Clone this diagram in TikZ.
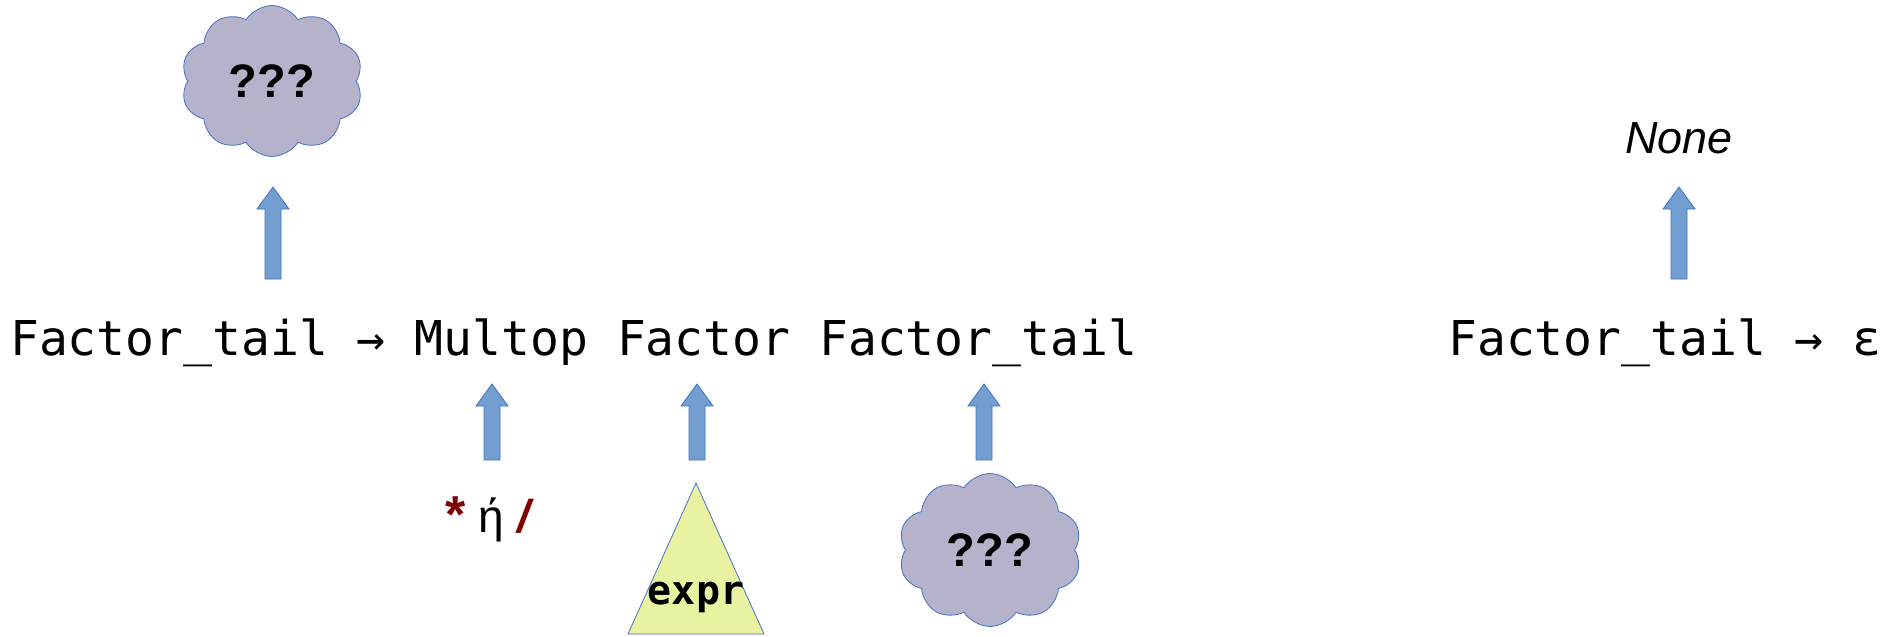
\documentclass[tikz,border=0pt]{standalone}
\usepackage{fontspec}
\setmainfont{Liberation Sans}
\newfontfamily\monofont{DejaVu Sans Mono}
\usetikzlibrary{shapes.symbols,calc}
\definecolor{arrowfill}{RGB}{114,159,207}
\definecolor{edgeblue}{RGB}{68,114,196}
\definecolor{cloudfill}{RGB}{181,179,203}
\definecolor{treefill}{RGB}{232,242,161}
\definecolor{opred}{RGB}{128,0,0}
\tikzset{
  rule/.style={font=\monofont\fontsize{48}{56}\selectfont, inner sep=0pt, anchor=base west},
  unknown/.style={cloud, cloud puffs=10, cloud puff arc=115, cloud ignores aspect,
    draw=edgeblue, fill=cloudfill, line width=0.8pt, inner sep=0pt,
    font=\bfseries\fontsize{47}{52}\selectfont},
  subtree/.style={draw=edgeblue, fill=treefill, line width=0.8pt},
  blockarrow/.style={draw=edgeblue, fill=arrowfill, line width=0.8pt,
    to path={let \p1=(\tikztostart), \p2=(\tikztotarget) in
      (\x1-8pt,\y1) -- (\x1+8pt,\y1) -- (\x1+8pt,\y2-22pt) -- (\x1+16pt,\y2-22pt)
      -- (\x1,\y2) -- (\x1-16pt,\y2-22pt) -- (\x1-8pt,\y2-22pt) -- cycle}},
}
\begin{document}
\begin{tikzpicture}[x=1pt,y=-1pt]
\useasboundingbox (0,0) rectangle (1893,637);

% productions
\node[rule] (prod) at (10,355) {Factor\_tail → Multop Factor Factor\_tail};
\node[rule] (eps) at (1448,355) {Factor\_tail → ε};

% values above the left-hand sides
\node[unknown, minimum width=182pt, minimum height=151pt] (top) at (272,81) {???};
\node[font=\itshape\fontsize{45}{52}\selectfont, anchor=base, inner sep=0pt] (none) at (1679,153) {None};

% children below the right-hand side
\node[font=\fontsize{46}{52}\selectfont, anchor=base, inner sep=0pt] (ops) at (490,532)
  {\textcolor{opred}{\fontsize{52}{52}\selectfont\textbf{*}} ή \textcolor{opred}{\textbf{\textit{/}}}};
\coordinate (apex) at (696,483);
\coordinate (bl) at (628,634);
\coordinate (br) at (764,634);
\draw[subtree] (apex) -- (br) -- (bl) -- cycle;
\node[font=\monofont\bfseries\fontsize{40}{44}\selectfont, anchor=base, inner sep=0pt] (expr) at (696,604) {expr};
\node[unknown, minimum width=183pt, minimum height=153pt] (rest) at (990,550) {???};

% arrows: tail and tip points
\coordinate (a1s) at (273,279);  \coordinate (a1e) at (273,187);
\coordinate (a2s) at (1679,279); \coordinate (a2e) at (1679,187);
\coordinate (a3s) at (492,460);  \coordinate (a3e) at (492,384);
\coordinate (a4s) at (697,460);  \coordinate (a4e) at (697,384);
\coordinate (a5s) at (984,460);  \coordinate (a5e) at (984,384);

\draw[blockarrow] (a1s) to (a1e);
\draw[blockarrow] (a2s) to (a2e);
\draw[blockarrow] (a3s) to (a3e);
\draw[blockarrow] (a4s) to (a4e);
\draw[blockarrow] (a5s) to (a5e);
\end{tikzpicture}
\end{document}
